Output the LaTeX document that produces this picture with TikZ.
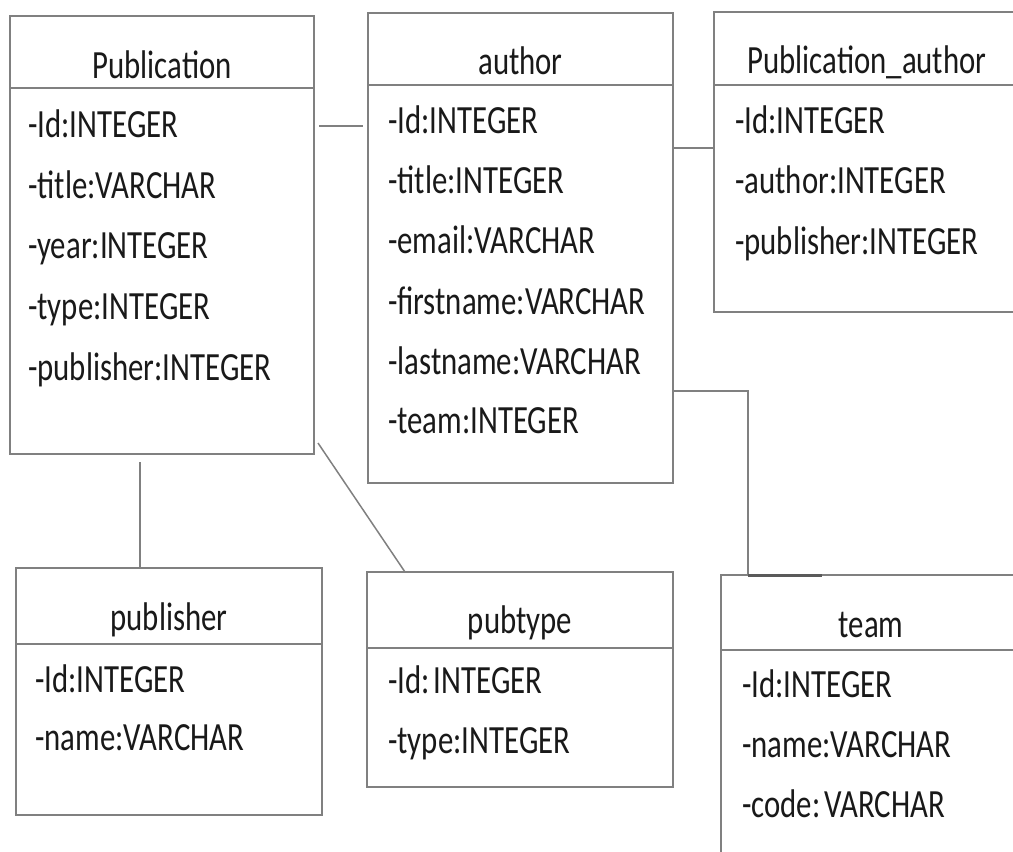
\documentclass[tikz,border=0pt]{standalone}
\usepackage{fontspec}
\setmainfont[FakeStretch=0.77]{Carlito}
\usetikzlibrary{calc}
\definecolor{linegray}{RGB}{128,128,128}
\definecolor{darkline}{RGB}{90,90,90}
\definecolor{textcol}{RGB}{25,25,25}
\begin{document}
\begin{tikzpicture}[x=1pt,y=-1pt,
  cls/.style={draw=linegray, line width=1.8pt, fill=white, anchor=north west, inner sep=0pt, outer sep=0pt},
  conn/.style={draw=linegray, line width=1.5pt},
  txt/.style={anchor=base west, inner sep=0pt, text=textcol, font=\fontsize{40}{48}\selectfont},
  ttl/.style={anchor=base, inner sep=0pt, text=textcol, font=\fontsize{40}{48}\selectfont},
]
\useasboundingbox (0,0) rectangle (1013,852);
\clip (0,0) rectangle (1013,852);

% Publication
\node[cls, minimum width=304pt, minimum height=438pt] (pub) at (10,16) {};
\draw[conn] ($(pub.north west)+(0,72)$) -- ($(pub.north east)+(0,72)$);
\node[ttl] (pubT) at ($(pub.north)+(0,62)$) {Publication};
\node[txt] (pub1) at (28,137) {-Id:INTEGER};
\node[txt] (pub2) at (28,198) {-title:VARCHAR};
\node[txt] (pub3) at (28,258) {-year:INTEGER};
\node[txt] (pub4) at (28,319) {-type:INTEGER};
\node[txt] (pub5) at (28,380) {-publisher:INTEGER};

% author
\node[cls, minimum width=305pt, minimum height=470pt] (author) at (368,13) {};
\draw[conn] ($(author.north west)+(0,72)$) -- ($(author.north east)+(0,72)$);
\node[ttl] (authorT) at ($(author.north)+(0,61)$) {author};
\node[txt] (au1) at (388,133) {-Id:INTEGER};
\node[txt] (au2) at (388,193) {-title:INTEGER};
\node[txt] (au3) at (388,253) {-email:VARCHAR};
\node[txt] (au4) at (388,314) {-firstname:VARCHAR};
\node[txt] (au5) at (388,374) {-lastname:VARCHAR};
\node[txt] (au6) at (388,433) {-team:INTEGER};

% Publication_author
\node[cls, minimum width=306pt, minimum height=300pt] (pa) at (714,12) {};
\draw[conn] ($(pa.north west)+(0,73)$) -- ($(pa.north east)+(0,73)$);
\node[ttl] (paT) at ($(pa.north)+(0,61)$) {Publication\_author};
\node[txt] (pa1) at (735,133) {-Id:INTEGER};
\node[txt] (pa2) at (735,193) {-author:INTEGER};
\node[txt] (pa3) at (735,254) {-publisher:INTEGER};

% publisher
\node[cls, minimum width=306pt, minimum height=247pt] (publisher) at (16,568) {};
\draw[conn] ($(publisher.north west)+(0,76)$) -- ($(publisher.north east)+(0,76)$);
\node[ttl] (publisherT) at ($(publisher.north)+(0,62)$) {publisher};
\node[txt] (ps1) at (35,692) {-Id:INTEGER};
\node[txt] (ps2) at (35,750) {-name:VARCHAR};

% pubtype
\node[cls, minimum width=306pt, minimum height=215pt] (pubtype) at (367,572) {};
\draw[conn] ($(pubtype.north west)+(0,76)$) -- ($(pubtype.north east)+(0,76)$);
\node[ttl] (pubtypeT) at ($(pubtype.north)+(0,61)$) {pubtype};
\node[txt] (pt1) at (388,693) {-Id:\hspace{4pt}INTEGER};
\node[txt] (pt2) at (388,753) {-type:INTEGER};

% team
\node[cls, minimum width=300pt, minimum height=320pt] (team) at (721,575) {};
\draw[conn] ($(team.north west)+(0,75)$) -- ($(team.north east)+(0,75)$);
\node[ttl] (teamT) at ($(team.north)+(0,62)$) {team};
\node[txt] (tm1) at (742,697) {-Id:INTEGER};
\node[txt] (tm2) at (742,757) {-name:VARCHAR};
\node[txt] (tm3) at (742,817) {-code:\hspace{4pt}VARCHAR};

% connectors
\coordinate (h1) at (0,126);
\draw[conn, shorten <=5pt, shorten >=5pt] (pub.east|-h1) -- (author.west|-h1);
\coordinate (h2) at (0,148);
\draw[conn] (author.east|-h2) -- (pa.west|-h2);
\coordinate (v3) at (140,0);
\draw[conn, shorten <=8pt] (pub.south-|v3) -- (publisher.north-|v3);
\draw[conn] ($(pub.south east)+(4,-11)$) -- ($(pubtype.north west)+(38,0)$);
\coordinate (h5) at (0,391);
\coordinate (v5) at (748,0);
\draw[conn] (author.east|-h5) -| (team.north-|v5);
\draw[draw=darkline, line width=3pt] (team.north-|v5) -- ++(74,0);
\end{tikzpicture}
\end{document}
